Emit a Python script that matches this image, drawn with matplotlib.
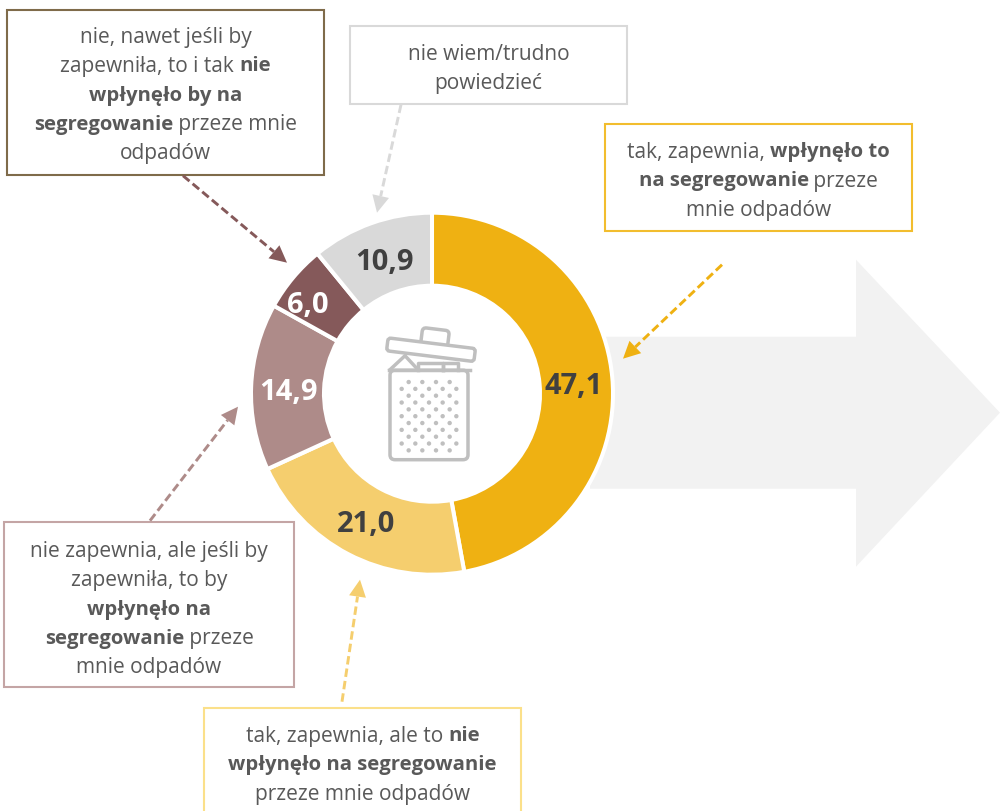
"""
Wykres pierscieniowy: wplyw zapewnienia pojemnikow na segregowanie odpadow
"""

import matplotlib
matplotlib.use("Agg")
import matplotlib.pyplot as plt
from matplotlib.patches import FancyBboxPatch, Polygon, Rectangle, Circle
from matplotlib.transforms import Affine2D
import numpy as np

H = 812
FONT = "Open Sans"
TEXT_COLOR = "#595959"
ICON_COLOR = "#bfbfbf"

values = [47.1, 21.0, 14.9, 6.0, 10.9]
value_labels = ["47,1", "21,0", "14,9", "6,0", "10,9"]
colors = ["#efb112", "#f5ce6e", "#ae8b89", "#85595a", "#d9d9d9"]
label_colors = ["#404040", "#404040", "white", "white", "#404040"]
label_pos = [(574, 386), (366, 524), (288, 392), (308, 305), (384, 262)]

# Kazda linia to lista fragmentow (tekst, pogrubienie)
box_lines = [
    [[("nie, nawet jeśli by", False)],
     [("zapewniła, to i tak ", False), ("nie", True)],
     [("wpłynęło by na", True)],
     [("segregowanie", True), (" przeze mnie", False)],
     [("odpadów", False)]],
    [[("nie wiem/trudno", False)],
     [("powiedzieć", False)]],
    [[("tak, zapewnia, ", False), ("wpłynęło to", True)],
     [("na segregowanie", True), (" przeze", False)],
     [("mnie odpadów", False)]],
    [[("nie zapewnia, ale jeśli by", False)],
     [("zapewniła, to by", False)],
     [("wpłynęło na", True)],
     [("segregowanie", True), (" przeze", False)],
     [("mnie odpadów", False)]],
    [[("tak, zapewnia, ale to ", False), ("nie", True)],
     [("wpłynęło na segregowanie", True)],
     [("przeze mnie odpadów", False)]],
]
box_rects = [(7, 10, 324, 175), (350, 26, 627, 104), (605, 124, 912, 231),
             (4, 522, 294, 687), (204, 708, 521, 830)]
box_edges = ["#7f6b4a", "#d9d9d9", "#f2bd2e", "#c4a5a5", "#fbe08a"]
box_first_y = [34, 51, 149, 548, 733]

arrow_starts = [(183, 176), (401, 105), (722, 265), (150, 521), (342, 702)]
arrow_ends = [(287, 263), (377, 213), (623, 359), (238, 407), (360, 580)]
arrow_colors = ["#85595a", "#d9d9d9", "#efb112", "#ae8b89", "#f5ce6e"]


def Y(y):
    return H - y - 0.7


def text_width(ax, renderer, txt, size, weight):
    # Szerokosc z uwzglednieniem spacji na koncach
    a = ax.text(0, 0, "x" + txt + "x", fontsize=size, family=FONT, weight=weight)
    b = ax.text(0, 0, "xx", fontsize=size, family=FONT, weight=weight)
    w = a.get_window_extent(renderer).width - b.get_window_extent(renderer).width
    a.remove()
    b.remove()
    return w


def draw_line(ax, renderer, cx, y, parts, size=15.0, bold_size=14.6):
    # Rysuje linie z mieszana grubowscia fontu, wysrodkowana wokol cx
    sizes = [bold_size if bold else size for _, bold in parts]
    widths = [text_width(ax, renderer, txt, s, "bold" if bold else "normal")
              for (txt, bold), s in zip(parts, sizes)]
    x = cx - sum(widths) / 2
    for (txt, bold), s, w in zip(parts, sizes, widths):
        ax.text(x, Y(y), txt, fontsize=s, family=FONT, color=TEXT_COLOR,
                weight="bold" if bold else "normal", va="center_baseline", ha="left", zorder=6)
        x += w


def draw_arrow(ax, start, end, col):
    # Linia przerywana + pelny grot
    p0 = np.array([start[0], Y(start[1])], dtype=float)
    p1 = np.array([end[0], Y(end[1])], dtype=float)
    d = (p1 - p0) / np.hypot(*(p1 - p0))
    n = np.array([-d[1], d[0]])
    base = p1 - d * 17
    ax.plot([p0[0], base[0]], [p0[1], base[1]], color=col, lw=2.1, ls=(0, (2.9, 1.4)),
            solid_capstyle="butt", zorder=5)
    ax.add_patch(Polygon([p1, base + n * 8.5, base - n * 8.5], fc=col, ec="none", zorder=5))


def draw_icon(ax):
    lw = 2.5
    # kropki
    for i in range(11):
        y = 290 + (277 + 20.5 * i) / 3
        xs = [206, 247, 288, 329] if i % 2 == 0 else [185, 226, 267, 308, 349]
        for xz in xs:
            ax.add_patch(Circle((340 + xz / 3, Y(y)), 2.2, color=ICON_COLOR, lw=0, zorder=4))
    # kosz
    ax.add_patch(FancyBboxPatch((390, Y(460)), 78, 89.5, boxstyle="round,pad=0,rounding_size=5",
                                fc="none", ec=ICON_COLOR, lw=lw, zorder=4))
    ax.plot([388.5, 469.5], [Y(370.5), Y(370.5)], color=ICON_COLOR, lw=lw, zorder=4)
    # zawartosc
    ax.plot([390, 405, 418], [Y(370), Y(356), Y(370)], color=ICON_COLOR, lw=lw, zorder=4)
    ax.plot([418, 418, 443, 443], [Y(370), Y(363), Y(363), Y(370)], color=ICON_COLOR, lw=lw, zorder=4)
    ax.plot([443, 443, 458, 458], [Y(370), Y(363), Y(363), Y(370)], color=ICON_COLOR, lw=lw, zorder=4)
    # pokrywa i uchwyt, obrocone wokol srodka
    rot = Affine2D().rotate_deg_around(431, Y(350), -7) + ax.transData
    ax.add_patch(FancyBboxPatch((387, Y(356.5)), 88, 13, boxstyle="round,pad=0,rounding_size=3",
                                fc="white", ec=ICON_COLOR, lw=lw, zorder=5, transform=rot))
    ax.add_patch(FancyBboxPatch((420, Y(346)), 27, 17, boxstyle="round,pad=0,rounding_size=4",
                                fc="none", ec=ICON_COLOR, lw=lw, zorder=4.5, transform=rot))


fig, ax = plt.subplots(figsize=(10, 8.12), dpi=100)
fig.subplots_adjust(0, 0, 1, 1)

# Duza szara strzalka w tle
ax.add_patch(Polygon([(590, Y(337)), (856, Y(337)), (856, Y(260)), (1000, Y(413)),
                      (856, Y(567)), (856, Y(489)), (590, Y(489))],
                     fc="#f2f2f2", ec="none", zorder=1))

wedges, _ = ax.pie(values, colors=colors, startangle=90, counterclock=False, radius=181,
                   center=(432, Y(394)), wedgeprops=dict(width=73, edgecolor="white", linewidth=2.9))
for w in wedges:
    w.set_zorder(2)
ax.set_xlim(0, 1000)
ax.set_ylim(0, H)
ax.set_aspect("auto")
ax.axis("off")

for txt, (x, y), col in zip(value_labels, label_pos, label_colors):
    ax.text(x, Y(y), txt, fontsize=21, weight="bold", family=FONT, color=col,
            ha="center", va="center", zorder=6)

renderer = fig.canvas.get_renderer()
for rect, edge, lines, y0 in zip(box_rects, box_edges, box_lines, box_first_y):
    x0, top, x1, bottom = rect
    ax.add_patch(Rectangle((x0, Y(bottom)), x1 - x0, bottom - top, fc="white", ec=edge, lw=1.5, zorder=3))
    for i, parts in enumerate(lines):
        draw_line(ax, renderer, (x0 + x1) / 2, y0 + i * 29.2, parts)

for start, end, col in zip(arrow_starts, arrow_ends, arrow_colors):
    draw_arrow(ax, start, end, col)

draw_icon(ax)

fig.savefig("out.png", dpi=100)
plt.close(fig)
